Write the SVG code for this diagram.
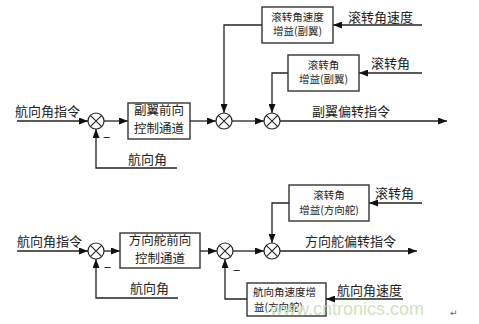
<svg xmlns="http://www.w3.org/2000/svg" width="479" height="324" viewBox="0 0 479 324">
<style>
.ln{fill:none;stroke:#222;stroke-width:1.3}
.bx{fill:#fff;stroke:#333;stroke-width:1.4}
.t{font-family:"Noto Sans CJK SC",sans-serif;fill:#222}
.l{font-size:13px}
.b{font-size:12.5px;text-anchor:middle}
.s{font-size:10.5px;text-anchor:middle}
.sj{fill:#fff;stroke:#222;stroke-width:1.2}
</style>
<defs>
<marker id="ar" markerWidth="9" markerHeight="7" refX="9" refY="3.5" orient="auto" markerUnits="userSpaceOnUse">
<path d="M0,0 L9,3.5 L0,7 Z" fill="#111"/>
</marker>
<g id="sumj">
<circle r="8" class="sj"/>
<path d="M-5.7,-5.7 L5.7,5.7 M-5.7,5.7 L5.7,-5.7" stroke="#222" stroke-width="1.1"/>
</g>
</defs>
<rect width="479" height="324" fill="#fff"/>

<g id="connectors">
<path class="ln" marker-end="url(#ar)" d="M17,121 H88"/>
<path class="ln" marker-end="url(#ar)" d="M104,121 H128"/>
<path class="ln" marker-end="url(#ar)" d="M190,121 H216"/>
<path class="ln" marker-end="url(#ar)" d="M232,121 H264"/>
<path class="ln" marker-end="url(#ar)" d="M280,121 H447"/>
<path class="ln" marker-end="url(#ar)" d="M177,168 H96 V129"/>
<path class="ln" marker-end="url(#ar)" d="M262,25 H224 V113"/>
<path class="ln" marker-end="url(#ar)" d="M422,25 H333"/>
<path class="ln" marker-end="url(#ar)" d="M422,73 H359"/>
<path class="ln" marker-end="url(#ar)" d="M288,73 H272 V113"/>

<path class="ln" marker-end="url(#ar)" d="M17,251 H88"/>
<path class="ln" marker-end="url(#ar)" d="M104,251 H120"/>
<path class="ln" marker-end="url(#ar)" d="M200,251 H217"/>
<path class="ln" marker-end="url(#ar)" d="M233,251 H264"/>
<path class="ln" marker-end="url(#ar)" d="M280,251 H417"/>
<path class="ln" marker-end="url(#ar)" d="M178,298 H96 V259"/>
<path class="ln" marker-end="url(#ar)" d="M247,299 H225 V259"/>
<path class="ln" marker-end="url(#ar)" d="M403,299 H326"/>
<path class="ln" marker-end="url(#ar)" d="M289,203 H272 V243"/>
<path class="ln" marker-end="url(#ar)" d="M422,203 H369"/>
</g>

<g id="sum1"><use href="#sumj" x="96" y="121"/></g>
<g id="sum2"><use href="#sumj" x="224" y="121"/></g>
<g id="sum3"><use href="#sumj" x="272" y="121"/></g>
<g id="sum4"><use href="#sumj" x="96" y="251"/></g>
<g id="sum5"><use href="#sumj" x="225" y="251"/></g>
<g id="sum6"><use href="#sumj" x="272" y="251"/></g>

<g id="box-aileron-fwd">
<rect class="bx" x="128" y="103" width="62" height="36"/>
<text class="t b"><tspan x="159" y="115">副翼前向</tspan><tspan x="159" y="132.5">控制通道</tspan></text>
</g>
<g id="box-rollrate-aileron">
<rect class="bx" x="262" y="7" width="71" height="36"/>
<text class="t s"><tspan x="297.5" y="20.5">滚转角速度</tspan><tspan x="297.5" y="35">增益(副翼)</tspan></text>
</g>
<g id="box-roll-aileron">
<rect class="bx" x="288" y="55" width="71" height="36"/>
<text class="t s"><tspan x="323.5" y="68.5">滚转角</tspan><tspan x="323.5" y="83">增益(副翼)</tspan></text>
</g>
<g id="box-rudder-fwd">
<rect class="bx" x="120" y="233" width="80" height="35"/>
<text class="t b"><tspan x="160" y="245">方向舵前向</tspan><tspan x="160" y="262.5">控制通道</tspan></text>
</g>
<g id="box-roll-rudder">
<rect class="bx" x="289" y="185" width="80" height="36"/>
<text class="t s"><tspan x="329" y="198.5">滚转角</tspan><tspan x="329" y="214">增益(方向舵)</tspan></text>
</g>
<g id="box-yawrate-rudder">
<rect class="bx" x="247" y="283" width="79" height="33"/>
<text class="t" font-size="10.5"><tspan x="253" y="295.5">航向角速度增</tspan><tspan x="254" y="311">益(方向舵)</tspan></text>
</g>

<g id="labels">
<text class="t l" x="15" y="116">航向角指令</text>
<text class="t l" x="128" y="164">航向角</text>
<text class="t l" x="103" y="142">−</text>
<text class="t l" x="312" y="116">副翼偏转指令</text>
<text class="t l" x="348" y="22">滚转角速度</text>
<text class="t l" x="371" y="68">滚转角</text>

<text class="t l" x="17" y="246">航向角指令</text>
<text class="t l" x="130" y="293">航向角</text>
<text class="t l" x="104" y="272">−</text>
<text class="t l" x="233" y="275">−</text>
<text class="t l" x="305" y="246">方向舵偏转指令</text>
<text class="t l" x="375" y="198">滚转角</text>
<text class="t l" x="337" y="295">航向角速度</text>
<text font-family="Liberation Sans, sans-serif" font-size="18" fill="#cfe3bd" x="270" y="315">www.cntronics.com</text>
<text font-family="DejaVu Sans, sans-serif" font-size="9" fill="#666" x="450" y="316">↵</text>
</g>
</svg>
